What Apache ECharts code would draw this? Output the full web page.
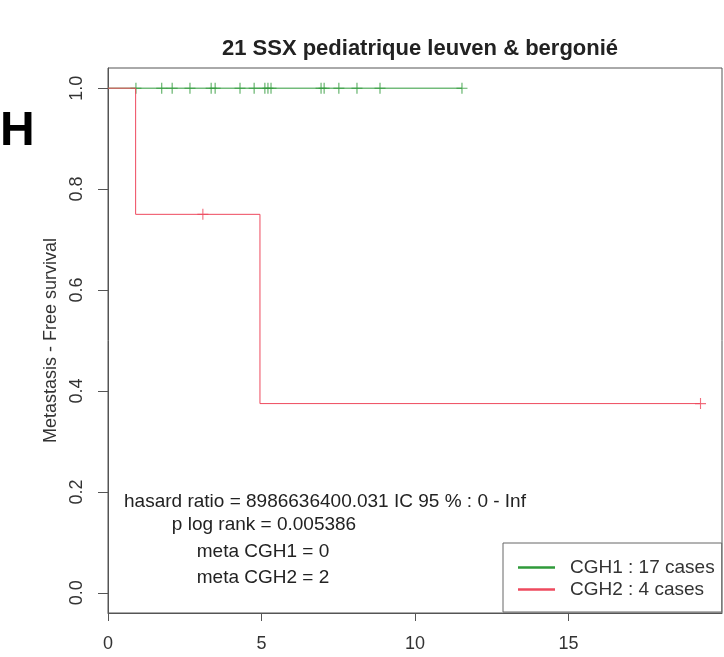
<!DOCTYPE html>
<html>
<head>
<meta charset="utf-8">
<script src="https://cdn.jsdelivr.net/npm/echarts@6/dist/echarts.min.js"></script>
<style>
  html, body { margin: 0; padding: 0; background: #fff; }
  #chart { width: 724px; height: 657px; }
</style>
</head>
<body>
<div id="chart"></div>
<script>
// Kaplan-Meier curves: metastasis-free survival by CGH group (time in years)
const seriesNames = ['CGH1 : 17 cases', 'CGH2 : 4 cases'];

// CGH1: no events, all 17 patients censored
const cgh1Times = [0, 11.53];
const cgh1Surv = [1, 1];
const cgh1Censored = [0.91, 1.75, 2.09, 2.67, 3.36, 3.49, 4.30, 4.76, 5.11, 5.21, 5.31, 6.94, 7.04, 7.52, 8.11, 8.86, 11.53];

// CGH2: two metastatic events, two censored patients
const cgh2Times = [0, 0.9, 4.95, 19.3];
const cgh2Surv = [1, 0.75, 0.375, 0.375];
const cgh2Censored = [3.09, 19.3];

const xTicks = [0, 5, 10, 15];
const yTicks = [0, 0.2, 0.4, 0.6, 0.8, 1.0];

const statLines = [
  'hasard ratio = 8986636400.031 IC 95 % : 0 - Inf',
  'p log rank = 0.005386',
  'meta CGH1 = 0',
  'meta CGH2 = 2'
];

const GREEN = '#2f9a3a';
const RED = '#ee4a5e';
const FONT = '"Liberation Sans", Arial, sans-serif';

// survival value of a step curve at time t
function survAt(times, surv, t) {
  let s = surv[0];
  for (let i = 0; i < times.length; i++) if (times[i] <= t) s = surv[i];
  return s;
}
const pairs = (xs, ys) => xs.map((x, i) => [x, ys[i]]);
const plusPath = 'path://M4.5,0 h1 v4.5 h4.5 v1 h-4.5 v4.5 h-1 v-4.5 h-4.5 v-1 h4.5 z';

const chart = echarts.init(document.getElementById('chart'), null, { renderer: 'canvas' });

const statText = (text, x, y) => ({
  type: 'text', x: x, y: y,
  style: { text: text, align: 'center', verticalAlign: 'middle', fontFamily: FONT, fontSize: 19, fill: '#222' }
});

const option = {
  animation: false,
  backgroundColor: '#fff',
  title: {
    text: '21 SSX pediatrique leuven & bergonié',
    left: 415, top: 33, textAlign: 'center',
    textStyle: { fontFamily: FONT, fontSize: 22, fontWeight: 'bold', color: '#222' }
  },
  grid: {
    left: 108, top: 68, right: 2, bottom: 44,
    show: true, borderColor: '#555', borderWidth: 1, backgroundColor: 'transparent'
  },
  xAxis: {
    type: 'value', min: 0, max: 20,
    axisLine: { show: true, onZero: false, lineStyle: { color: '#555', width: 1 } },
    axisTick: { show: true, customValues: xTicks, length: 8, lineStyle: { color: '#555' } },
    axisLabel: { customValues: xTicks, margin: 22, fontFamily: FONT, fontSize: 18, color: '#333' },
    splitLine: { show: false }
  },
  yAxis: {
    type: 'value', min: -0.04, max: 1.04,
    name: 'Metastasis - Free survival',
    nameLocation: 'middle', nameGap: 40, nameRotate: 90,
    nameTextStyle: { fontFamily: FONT, fontSize: 18, color: '#333' },
    axisLine: { show: true, onZero: false, lineStyle: { color: '#555', width: 1 } },
    axisTick: { show: true, customValues: yTicks, length: 10, lineStyle: { color: '#555' } },
    axisLabel: {
      customValues: yTicks, rotate: 90, margin: 22,
      fontFamily: FONT, fontSize: 18, color: '#333',
      formatter: v => v.toFixed(1)
    },
    splitLine: { show: false }
  },
  legend: {
    orient: 'vertical', left: 503, top: 543,
    data: seriesNames,
    icon: 'rect', itemWidth: 37, itemHeight: 2.5, itemGap: 3,
    padding: [15, 7, 13, 15],
    borderColor: '#666', borderWidth: 1, backgroundColor: '#fff',
    textStyle: { fontFamily: FONT, fontSize: 19, color: '#333', padding: [0, 0, 0, 10] }
  },
  series: [
    {
      name: seriesNames[0], type: 'line', step: 'end', symbol: 'none',
      color: GREEN, lineStyle: { width: 1, color: GREEN },
      data: pairs(cgh1Times, cgh1Surv), z: 2
    },
    {
      name: seriesNames[0], type: 'scatter', symbol: plusPath, symbolSize: 11,
      itemStyle: { color: GREEN }, z: 2,
      data: cgh1Censored.map(t => [t, survAt(cgh1Times, cgh1Surv, t)])
    },
    {
      name: seriesNames[1], type: 'line', step: 'end', symbol: 'none',
      color: RED, lineStyle: { width: 1, color: RED },
      data: pairs(cgh2Times, cgh2Surv), z: 3
    },
    {
      name: seriesNames[1], type: 'scatter', symbol: plusPath, symbolSize: 11,
      itemStyle: { color: RED }, z: 3,
      data: cgh2Censored.map(t => [t, survAt(cgh2Times, cgh2Surv, t)])
    }
  ],
  graphic: [
    {
      type: 'text', left: 0, top: 108,
      style: { text: 'H', fontFamily: FONT, fontSize: 48, fontWeight: 'bold', fill: '#000' }
    },
    statText(statLines[0], 325, 502),
    statText(statLines[1], 264, 525),
    statText(statLines[2], 263, 552),
    statText(statLines[3], 263, 578)
  ]
};

chart.setOption(option);
</script>
</body>
</html>
